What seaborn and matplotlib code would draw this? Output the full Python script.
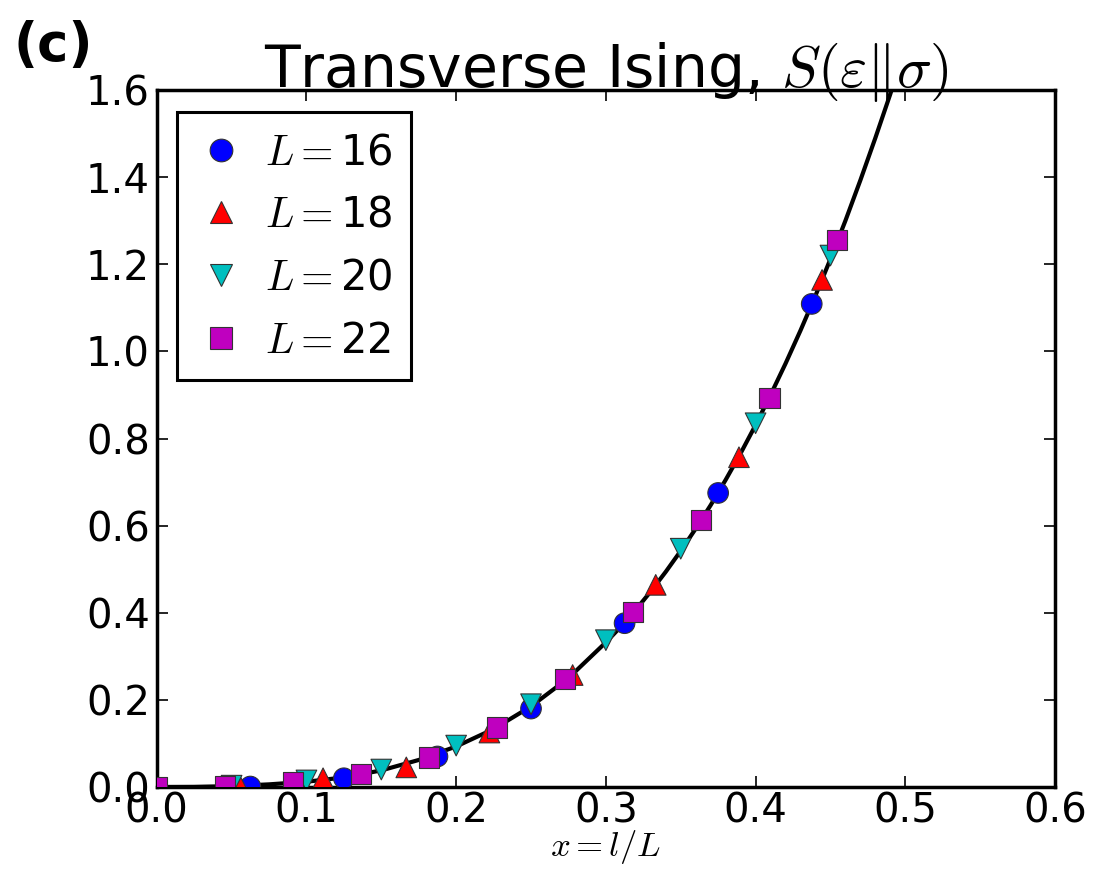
import numpy as np
import pandas as pd
import matplotlib
matplotlib.use("Agg")
import matplotlib.pyplot as plt
import seaborn as sns

# data
sizes = [16, 18, 20, 22]

x_L16 = [0.0625, 0.125, 0.1875, 0.25, 0.3125, 0.375, 0.4375]
y_L16 = [0.001, 0.020, 0.070, 0.180, 0.376, 0.675, 1.109]

x_L18 = [0.0556, 0.1111, 0.1667, 0.2222, 0.2778, 0.3333, 0.3889, 0.4444]
y_L18 = [0.002, 0.020, 0.045, 0.125, 0.257, 0.464, 0.757, 1.164]

x_L20 = [0.05, 0.10, 0.15, 0.20, 0.25, 0.30, 0.35, 0.40, 0.45]
y_L20 = [0.003, 0.015, 0.040, 0.095, 0.190, 0.337, 0.547, 0.835, 1.220]

x_L22 = [0.0, 0.0455, 0.0909, 0.1364, 0.1818, 0.2273, 0.2727, 0.3182, 0.3636, 0.4091, 0.4545]
y_L22 = [0.0, 0.002, 0.010, 0.030, 0.067, 0.136, 0.248, 0.402, 0.613, 0.893, 1.256]

# solid black curve, estimated along its length
curve_x = [0.0, 0.025, 0.05, 0.075, 0.10, 0.125, 0.15, 0.175, 0.20, 0.225, 0.25, 0.275,
           0.30, 0.31, 0.32, 0.33, 0.34, 0.35, 0.36, 0.37, 0.38, 0.39, 0.40,
           0.41, 0.42, 0.43, 0.44, 0.45, 0.46, 0.47, 0.48, 0.49, 0.50]
curve_y = [0.0, 0.0003, 0.002, 0.006, 0.012, 0.022, 0.038, 0.062, 0.093, 0.133, 0.185, 0.250,
           0.332, 0.368, 0.407, 0.449, 0.494, 0.542, 0.593, 0.647, 0.705, 0.766, 0.831,
           0.900, 0.972, 1.048, 1.128, 1.212, 1.300, 1.393, 1.490, 1.591, 1.698]

colors = ["#0000ff", "#ff0000", "#00bfbf", "#bf00bf"]
markers = ["o", "^", "v", "s"]

labels = [f"$L=${L}" for L in sizes]
frames = []
for lab, xs, ys in zip(labels, [x_L16, x_L18, x_L20, x_L22], [y_L16, y_L18, y_L20, y_L22]):
    frames.append(pd.DataFrame({"x": xs, "y": ys, "series": lab}))
df = pd.concat(frames, ignore_index=True)
curve = pd.DataFrame({"x": curve_x, "y": curve_y})

sns.set_style("ticks")
plt.rcParams["font.family"] = ["DejaVu Sans"]
plt.rcParams["mathtext.fontset"] = "cm"
plt.rcParams["xtick.direction"] = "in"
plt.rcParams["ytick.direction"] = "in"
for key in ["text.color", "axes.labelcolor", "xtick.color", "ytick.color", "axes.edgecolor"]:
    plt.rcParams[key] = "black"

fig = plt.figure(figsize=(10.96, 8.75), dpi=100)
ax = fig.add_axes([0.143, 0.1006, 0.8196, 0.7965])

sns.lineplot(data=curve, x="x", y="y", color="k", linewidth=3, ax=ax, zorder=1)
sns.scatterplot(data=df, x="x", y="y", hue="series", style="series",
                palette=dict(zip(labels, colors)), markers=dict(zip(labels, markers)),
                s=220, edgecolor="#333333", linewidth=0.8, ax=ax, zorder=3)

ax.set_xlim(0, 0.6)
ax.set_ylim(0, 1.6)
xt = np.arange(0, 0.61, 0.1)
yt = np.arange(0, 1.61, 0.2)
ax.set_xticks(xt)
ax.set_yticks(yt)
ax.set_xticklabels([f"{v:.1f}" for v in xt])
ax.set_yticklabels([f"{v:.1f}" for v in yt])
ax.tick_params(labelsize=29, length=8, width=1.2, top=True, right=True, pad=5)
ax.tick_params(axis="x", pad=3)
for sp in ax.spines.values():
    sp.set_linewidth(2.5)
    sp.set_visible(True)

ax.set_xlabel("$x = l/L$", fontsize=25, labelpad=-2)
ax.set_ylabel("")
ax.set_title("Transverse Ising, $S(\\varepsilon\\|\\sigma)$", fontsize=42, pad=2)
fig.text(0.012, 0.93, "(c)", fontsize=38, fontweight="bold")

handles, labs = ax.get_legend_handles_labels()
leg = ax.legend(handles, labs, loc="upper left", fontsize=30, frameon=True,
                fancybox=False, edgecolor="k", markerscale=1.1,
                borderpad=0.45, handlelength=1.2, handletextpad=0.45, labelspacing=0.5,
                borderaxespad=0, bbox_to_anchor=(0.023, 0.968))
leg.get_frame().set_linewidth(2.2)
leg.get_frame().set_alpha(1)

fig.savefig("out.png", dpi=100)
